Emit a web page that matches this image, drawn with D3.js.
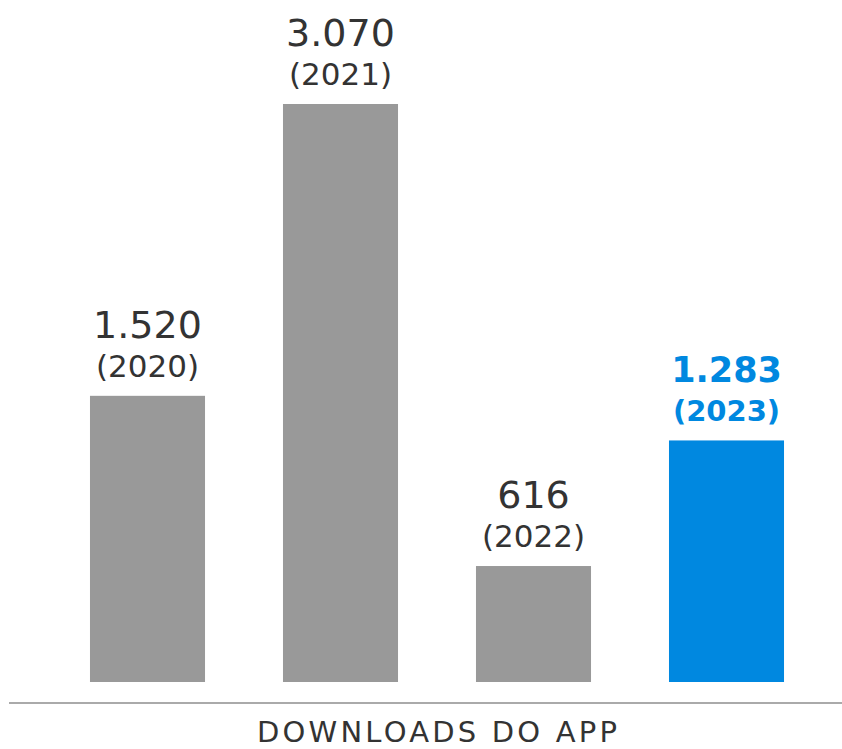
<!DOCTYPE html>
<html>
<head>
<meta charset="utf-8">
<script src="https://cdn.jsdelivr.net/npm/d3@7"></script>
<style>
  html, body { margin: 0; padding: 0; background: #fff; }
  svg { display: block; }
</style>
</head>
<body>
<svg id="chart" width="842" height="749"></svg>
<script>
const years = ["2020", "2021", "2022", "2023"];
const downloads = [1520, 3070, 616, 1283];
const valueLabels = ["1.520", "3.070", "616", "1.283"];
const highlight = [false, false, false, true];
const axisTitle = "DOWNLOADS DO APP";

const svg = d3.select("#chart");
const W = 842, H = 749;

const x = d3.scaleBand()
  .domain(years)
  .range([51, 823])
  .paddingInner(0.404)
  .paddingOuter(0.202);

const y = d3.scaleLinear()
  .domain([0, 3070])
  .range([682, 104]);

const grey = "#999999", blue = "#0088e0", textGrey = "#333333";

const data = years.map((yr, i) => ({ yr, v: downloads[i], lab: valueLabels[i], hi: highlight[i] }));

svg.selectAll("rect.bar")
  .data(data)
  .join("rect")
  .attr("class", "bar")
  .attr("x", d => x(d.yr))
  .attr("width", x.bandwidth())
  .attr("y", d => y(d.v))
  .attr("height", d => y(0) - y(d.v))
  .attr("fill", d => d.hi ? blue : grey);

// value labels
svg.selectAll("text.val")
  .data(data)
  .join("text")
  .attr("class", "val")
  .attr("x", d => x(d.yr) + x.bandwidth() / 2)
  .attr("y", d => y(d.v) - 58)
  .attr("text-anchor", "middle")
  .attr("font-family", "DejaVu Sans, Verdana, sans-serif")
  .attr("font-size", d => d.hi ? 35 : 38)
  .attr("font-weight", d => d.hi ? "bold" : "normal")
  .attr("fill", d => d.hi ? blue : textGrey)
  .text(d => d.lab);

svg.selectAll("text.yr")
  .data(data)
  .join("text")
  .attr("class", "yr")
  .attr("x", d => x(d.yr) + x.bandwidth() / 2)
  .attr("y", d => y(d.v) - 19)
  .attr("text-anchor", "middle")
  .attr("font-family", "DejaVu Sans, Verdana, sans-serif")
  .attr("font-size", d => d.hi ? 29 : 31)
  .attr("font-weight", d => d.hi ? "bold" : "normal")
  .attr("fill", d => d.hi ? blue : textGrey)
  .text(d => "(" + d.yr + ")");

// baseline
svg.append("line")
  .attr("x1", 9).attr("x2", W)
  .attr("y1", 703).attr("y2", 703)
  .attr("stroke", "#aaaaaa")
  .attr("stroke-width", 2);

// axis title
const t = svg.append("text")
  .attr("y", 742)
  .attr("font-family", "DejaVu Sans, Verdana, sans-serif")
  .attr("font-size", 29)
  .attr("letter-spacing", "3.2px")
  .attr("fill", textGrey)
  .text(axisTitle);
const tw = t.node().getComputedTextLength();
t.attr("x", 437 - (tw - 3.2) / 2);
</script>
</body>
</html>
